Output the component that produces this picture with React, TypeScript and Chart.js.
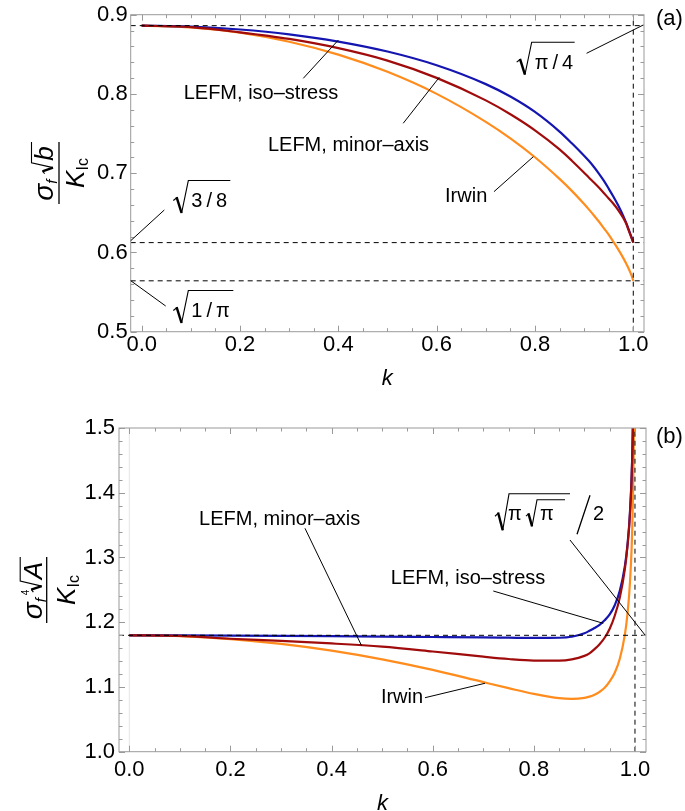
import React, { useEffect, useRef } from 'react';
import { Chart, registerables } from 'chart.js';

Chart.register(...registerables);

const SANS = '"Liberation Sans", Arial, Helvetica, sans-serif';

// ---------------- data ----------------
const kTop = [0, 0.1, 0.2, 0.3, 0.4, 0.5, 0.6, 0.7, 0.75, 0.8, 0.85, 0.875, 0.9, 0.91, 0.92, 0.93, 0.94, 0.95, 0.96, 0.97, 0.98, 0.985, 0.99, 0.995, 0.998, 1.0];
const isoStressTop = [0.8862, 0.885, 0.8813, 0.8752, 0.8661, 0.8535, 0.8362, 0.8124, 0.7967, 0.7773, 0.7525, 0.7377, 0.722, 0.7153, 0.7078, 0.6995, 0.6906, 0.6805, 0.67, 0.6585, 0.6455, 0.6382, 0.6302, 0.6215, 0.616, 0.6124];
const minorAxisTop = [0.8862, 0.8843, 0.8777, 0.8694, 0.8578, 0.8421, 0.8203, 0.7919, 0.7744, 0.7541, 0.73, 0.7158, 0.7006, 0.6943, 0.6883, 0.6819, 0.6751, 0.6681, 0.6611, 0.6529, 0.6431, 0.6371, 0.6288, 0.6207, 0.6158, 0.6124];
const irwinTop = [0.8862, 0.884, 0.8773, 0.8659, 0.8496, 0.8279, 0.8001, 0.7648, 0.7439, 0.7201, 0.6928, 0.6777, 0.6611, 0.654, 0.6466, 0.639, 0.6307, 0.6225, 0.613, 0.6032, 0.5925, 0.5866, 0.5803, 0.5732, 0.5683, 0.5642];

const kBottom = [0, 0.1, 0.2, 0.3, 0.4, 0.5, 0.6, 0.7, 0.75, 0.8, 0.85, 0.875, 0.9, 0.91, 0.92, 0.93, 0.94, 0.95, 0.96, 0.97, 0.98, 0.985, 0.99, 0.995, 0.998, 0.999];
const isoStressBottom = [1.1798, 1.1797, 1.1794, 1.179, 1.1785, 1.1779, 1.1772, 1.1765, 1.1761, 1.1757, 1.176, 1.1775, 1.183, 1.1868, 1.191, 1.196, 1.203, 1.212, 1.2263, 1.2485, 1.2867, 1.3184, 1.369, 1.4719, 1.6356, 1.7783];
const minorAxisBottom = [1.1798, 1.1788, 1.1745, 1.1712, 1.1672, 1.1622, 1.1548, 1.1468, 1.1432, 1.1408, 1.1406, 1.1425, 1.148, 1.152, 1.1585, 1.166, 1.176, 1.19, 1.21, 1.238, 1.282, 1.316, 1.366, 1.47, 1.635, 1.778];
const irwinBottom = [1.1799, 1.1784, 1.174, 1.1665, 1.1561, 1.1426, 1.1263, 1.1075, 1.0982, 1.0893, 1.0827, 1.0817, 1.0831, 1.085, 1.0879, 1.0925, 1.0987, 1.1087, 1.1219, 1.1436, 1.1809, 1.2117, 1.2605, 1.3574, 1.5089, 1.6399];

const kTickValues = [0, 0.2, 0.4, 0.6, 0.8, 1.0];
const yTickValuesTop = [0.5, 0.6, 0.7, 0.8, 0.9];
const yTickValuesBottom = [1.0, 1.1, 1.2, 1.3, 1.4, 1.5];
const refLevelsTop = [0.8862, 0.6124, 0.5642];
const refLevelsBottom = [1.1798];
const seriesNames = ['LEFM, iso\u2013stress', 'LEFM, minor\u2013axis', 'Irwin'];
const seriesColors = ['#1515b0', '#a00c0c', '#ff8c1c'];

type Seg = [number, number, number, number];
type Txt = { t: string; x: number; y: number };

interface Panel {
  width: number;
  height: number;
  xMin: number; xMax: number; yMin: number; yMax: number;
  padTop: number; padRight: number;
  yAxisWidth: number; xAxisHeight: number;
  xLabelPad: number; yLabelPad: number; titlePad: number;
  k: number[]; iso: number[]; minor: number[]; irwin: number[];
  yTicks: number[]; refLevels: number[];
  yMinorCount: number;
  texts: Txt[];
  leaders: Seg[];
  faintZero: boolean;
  panelLabel: Txt;
  top: boolean;
}

const topPanel: Panel = {
  width: 685, height: 400,
  xMin: -0.0224, xMax: 1.0218, yMin: 0.5, yMax: 0.9,
  padTop: 14.7, padRight: 41,
  yAxisWidth: 130.7, xAxisHeight: 68.3,
  xLabelPad: 0, yLabelPad: 3, titlePad: 10,
  k: kTop, iso: isoStressTop, minor: minorAxisTop, irwin: irwinTop,
  yTicks: yTickValuesTop, refLevels: refLevelsTop,
  yMinorCount: 20,
  texts: [
    { t: seriesNames[0], x: 0.2425, y: 0.8 },
    { t: seriesNames[1], x: 0.4207, y: 0.7347 },
    { t: seriesNames[2], x: 0.66, y: 0.671 },
  ],
  leaders: [
    [0.3287, 0.8197, 0.4, 0.868],
    [0.532, 0.763, 0.6054, 0.821],
    [0.7166, 0.6767, 0.7966, 0.7208],
    [0.905, 0.8513, 1.0203, 0.887],
    [0.046, 0.6536, -0.0224, 0.6148],
    [0.0488, 0.5324, -0.0224, 0.5644],
  ],
  faintZero: false,
  panelLabel: { t: '(a)', x: 656, y: 19 },
  top: true,
};

const bottomPanel: Panel = {
  width: 685, height: 411,
  xMin: -0.0204, xMax: 1.0218, yMin: 1.0, yMax: 1.5,
  padTop: 28, padRight: 39,
  yAxisWidth: 119, xAxisHeight: 59.3,
  xLabelPad: 5, yLabelPad: 4, titlePad: -3.5,
  k: kBottom, iso: isoStressBottom, minor: minorAxisBottom, irwin: irwinBottom,
  yTicks: yTickValuesBottom, refLevels: refLevelsBottom,
  yMinorCount: 25,
  texts: [
    { t: seriesNames[1], x: 0.2974, y: 1.3594 },
    { t: seriesNames[0], x: 0.6698, y: 1.2675 },
    { t: seriesNames[2], x: 0.5393, y: 1.083 },
  ],
  leaders: [
    [0.3474, 1.3451, 0.4596, 1.1633],
    [0.7198, 1.2482, 0.9373, 1.1983],
    [0.5847, 1.0834, 0.7034, 1.1057],
    [0.8715, 1.327, 1.0198, 1.1803],
  ],
  faintZero: true,
  panelLabel: { t: '(b)', x: 656, y: 37 },
  top: false,
};

// ---------------- drawing helpers ----------------
function radical(ctx: CanvasRenderingContext2D, x: number, top: number, h: number, w: number, barEnd: number) {
  ctx.save();
  ctx.strokeStyle = '#000';
  ctx.lineCap = 'butt';
  ctx.lineJoin = 'miter';
  ctx.beginPath();
  ctx.lineWidth = 1.1;
  ctx.moveTo(x, top + 0.62 * h);
  ctx.lineTo(x + 0.25 * w, top + 0.53 * h);
  ctx.stroke();
  ctx.beginPath();
  ctx.lineWidth = 2.4;
  ctx.moveTo(x + 0.22 * w, top + 0.52 * h);
  ctx.lineTo(x + 0.55 * w, top + h);
  ctx.stroke();
  ctx.beginPath();
  ctx.lineWidth = 1.1;
  ctx.moveTo(x + 0.55 * w, top + h);
  ctx.lineTo(x + w, top + 0.5);
  ctx.lineTo(barEnd, top + 0.5);
  ctx.stroke();
  ctx.restore();
}

function textAt(ctx: CanvasRenderingContext2D, s: string, x: number, y: number, font: string, align: CanvasTextAlign = 'left') {
  ctx.font = font;
  ctx.textAlign = align;
  ctx.fillText(s, x, y);
  return ctx.measureText(s).width;
}

function widthOf(ctx: CanvasRenderingContext2D, s: string, font: string) {
  ctx.font = font;
  return ctx.measureText(s).width;
}

function fracContent(ctx: CanvasRenderingContext2D, parts: string[], x: number, baseline: number) {
  const font = `20px ${SANS}`;
  let cx = x;
  parts.forEach((p, i) => {
    const w = textAt(ctx, p, cx, baseline, font);
    cx += w + (i < parts.length - 1 ? 4 : 0);
  });
}

function drawYTitle(ctx: CanvasRenderingContext2D, top: boolean) {
  ctx.save();
  ctx.fillStyle = '#000';
  ctx.strokeStyle = '#000';
  ctx.textBaseline = 'alphabetic';
  if (top) {
    ctx.translate(59, 173);
  } else {
    ctx.translate(46.7, 190);
  }
  ctx.rotate(-Math.PI / 2);
  const half = top ? 31 : 33;
  ctx.lineWidth = 1.3;
  ctx.beginPath();
  ctx.moveTo(-half, 0);
  ctx.lineTo(half, 0);
  ctx.stroke();
  // numerator
  const fSig = `italic 28px ${SANS}`;
  const fSub = `italic 15px ${SANS}`;
  const fVar = `italic 26px ${SANS}`;
  const varS = top ? 'b' : 'A';
  const total = widthOf(ctx, '\u03c3', fSig) + widthOf(ctx, 'f', fSub) + 6 + 12 + widthOf(ctx, varS, fVar) + 2;
  let x = -total / 2;
  const nb = top ? -6 : -5;
  x += textAt(ctx, '\u03c3', x, nb, fSig);
  x += textAt(ctx, 'f', x, nb + 4, fSub);
  x += 6;
  if (!top) {
    textAt(ctx, '4', x - 3, nb - 13, `10px ${SANS}`);
  }
  radical(ctx, x, nb - 22, 22, 11, half);
  textAt(ctx, varS, x + 13, nb, fVar);
  // denominator
  const db = top ? 25 : 28;
  const fK = `italic 26px ${SANS}`;
  const fIc = `16px ${SANS}`;
  const dtot = widthOf(ctx, 'K', fK) + widthOf(ctx, 'Ic', fIc);
  let dx = -dtot / 2;
  dx += textAt(ctx, 'K', dx, db, fK);
  textAt(ctx, 'Ic', dx, db + 4, fIc);
  ctx.restore();
}

function makeDecor(p: Panel) {
  return {
    id: 'decor',
    afterDraw(chart: any) {
      const { ctx, chartArea: a } = chart;
      const xs = chart.scales.x;
      const ys = chart.scales.y;
      const X = (v: number) => xs.getPixelForValue(v);
      const Y = (v: number) => ys.getPixelForValue(v);
      ctx.save();
      // frame
      ctx.strokeStyle = '#9a9a9a';
      ctx.lineWidth = 1;
      ctx.strokeRect(a.left, a.top, a.right - a.left, a.bottom - a.top);
      // ticks on four sides
      ctx.beginPath();
      for (let i = 0; i <= 20; i++) {
        const v = i * 0.05;
        const len = i % 4 === 0 ? 6 : 3.5;
        const px = Math.round(X(v)) + 0.5;
        ctx.moveTo(px, a.bottom);
        ctx.lineTo(px, a.bottom - len);
        ctx.moveTo(px, a.top);
        ctx.lineTo(px, a.top + len);
      }
      for (let i = 0; i <= p.yMinorCount; i++) {
        const v = p.yMin + i * 0.02;
        const len = i % 5 === 0 ? 6 : 3.5;
        const py = Math.round(Y(v)) + 0.5;
        ctx.moveTo(a.left, py);
        ctx.lineTo(a.left + len, py);
        ctx.moveTo(a.right, py);
        ctx.lineTo(a.right - len, py);
      }
      ctx.stroke();

      // leader lines
      ctx.strokeStyle = '#000';
      ctx.lineWidth = 1;
      ctx.beginPath();
      p.leaders.forEach(([x1, y1, x2, y2]) => {
        ctx.moveTo(X(x1), Y(y1));
        ctx.lineTo(X(x2), Y(y2));
      });
      ctx.stroke();

      // curve labels
      ctx.fillStyle = '#000';
      ctx.textBaseline = 'middle';
      p.texts.forEach((t) => {
        textAt(ctx, t.t, X(t.x), Y(t.y), `20px ${SANS}`, 'center');
      });

      ctx.textBaseline = 'alphabetic';
      if (p.top) {
        let lx = X(0.7628), ty = Y(0.8659);
        radical(ctx, lx, ty, 33, 15, lx + 58);
        fracContent(ctx, ['\u03c0', '/', '4'], lx + 18, ty + 27);
        lx = X(0.0643); ty = Y(0.6914);
        radical(ctx, lx, ty, 33, 15, lx + 57);
        fracContent(ctx, ['3', '/', '8'], lx + 18, ty + 27);
        lx = X(0.0643); ty = Y(0.5526);
        radical(ctx, lx, ty, 33, 15, lx + 60);
        fracContent(ctx, ['1', '/', '\u03c0'], lx + 18, ty + 27);
      } else {
        const lx = X(0.7232), ty = Y(1.3991);
        radical(ctx, lx, ty, 37, 14, lx + 75);
        textAt(ctx, '\u03c0', lx + 13, ty + 27, `20px ${SANS}`);
        radical(ctx, lx + 31, ty + 6, 27, 11, lx + 70);
        textAt(ctx, '\u03c0', lx + 45, ty + 27, `20px ${SANS}`);
        ctx.beginPath();
        ctx.lineWidth = 1.3;
        ctx.moveTo(lx + 82, ty + 41);
        ctx.lineTo(lx + 95, ty + 2);
        ctx.stroke();
        textAt(ctx, '2', lx + 98, ty + 27, `20px ${SANS}`);
      }

      ctx.textBaseline = 'middle';
      textAt(ctx, p.panelLabel.t, p.panelLabel.x, p.panelLabel.y, `22px ${SANS}`);

      drawYTitle(ctx, p.top);
      ctx.restore();
    },
  };
}

function pts(xs: number[], ys: number[]) {
  return xs.map((x, i) => ({ x, y: ys[i] }));
}

function buildConfig(p: Panel): any {
  const dashed = { borderColor: '#000', borderWidth: 1, borderDash: [5, 4], pointRadius: 0, tension: 0, fill: false };
  const curve = (data: any, color: string, label: string) => ({
    label, data, borderColor: color, borderWidth: 2.2, pointRadius: 0, fill: false, cubicInterpolationMode: 'monotone',
  });
  const datasets: any[] = [
    ...p.refLevels.map((lv) => ({ ...dashed, data: [{ x: p.xMin, y: lv }, { x: p.xMax, y: lv }] })),
    { ...dashed, data: [{ x: 1, y: p.yMin }, { x: 1, y: p.yMax }] },
    curve(pts(p.k, p.minor), seriesColors[1], seriesNames[1]),
    curve(pts(p.k, p.iso), seriesColors[0], seriesNames[0]),
    curve(pts(p.k, p.irwin), seriesColors[2], seriesNames[2]),
  ];
  if (p.faintZero) {
    datasets.push({ data: [{ x: 0, y: p.yMin }, { x: 0, y: p.yMax }], borderColor: '#e4e4e4', borderWidth: 1, pointRadius: 0 });
  }
  const zeroPad = (s: any) => { s.paddingLeft = 0; s.paddingRight = 0; s.paddingTop = 0; s.paddingBottom = 0; };
  return {
    type: 'line',
    data: { datasets },
    options: {
      animation: false,
      responsive: false,
      devicePixelRatio: 1,
      events: [],
      layout: { padding: { left: 0, right: p.padRight, top: p.padTop, bottom: 0 } },
      plugins: { legend: { display: false }, tooltip: { enabled: false } },
      scales: {
        x: {
          type: 'linear',
          min: p.xMin,
          max: p.xMax,
          grid: { display: false, drawTicks: false },
          border: { display: false },
          afterBuildTicks: (s: any) => { s.ticks = kTickValues.map((value) => ({ value })); },
          afterFit: (s: any) => { s.height = p.xAxisHeight; zeroPad(s); },
          ticks: {
            padding: p.xLabelPad,
            color: '#000',
            font: { family: SANS, size: 22 },
            maxRotation: 0,
            autoSkip: false,
            callback: (v: any) => Number(v).toFixed(1),
          },
          title: {
            display: true,
            text: 'k',
            color: '#000',
            font: { family: SANS, size: 22, style: 'italic', lineHeight: 1 },
            padding: { top: 0, bottom: p.titlePad },
          },
        },
        y: {
          type: 'linear',
          min: p.yMin,
          max: p.yMax,
          grid: { display: false, drawTicks: false },
          border: { display: false },
          afterBuildTicks: (s: any) => { s.ticks = p.yTicks.map((value) => ({ value })); },
          afterFit: (s: any) => { s.width = p.yAxisWidth; zeroPad(s); },
          ticks: {
            padding: p.yLabelPad,
            color: '#000',
            font: { family: SANS, size: 22 },
            autoSkip: false,
            callback: (v: any) => Number(v).toFixed(1),
          },
        },
      },
    },
    plugins: [makeDecor(p)],
  };
}

function PanelChart({ panel, top }: { panel: Panel; top: number }) {
  const ref = useRef<HTMLCanvasElement | null>(null);
  useEffect(() => {
    if (!ref.current) return;
    const chart = new Chart(ref.current, buildConfig(panel));
    return () => chart.destroy();
  }, [panel]);
  return (
    <canvas
      ref={ref}
      width={panel.width}
      height={panel.height}
      style={{ position: 'absolute', left: 0, top, width: panel.width, height: panel.height, display: 'block' }}
    />
  );
}

export default function App() {
  return (
    <div style={{ position: 'absolute', left: 0, top: 0, width: 685, height: 811, background: '#fff', overflow: 'hidden' }}>
      <PanelChart panel={topPanel} top={0} />
      <PanelChart panel={bottomPanel} top={400} />
    </div>
  );
}
